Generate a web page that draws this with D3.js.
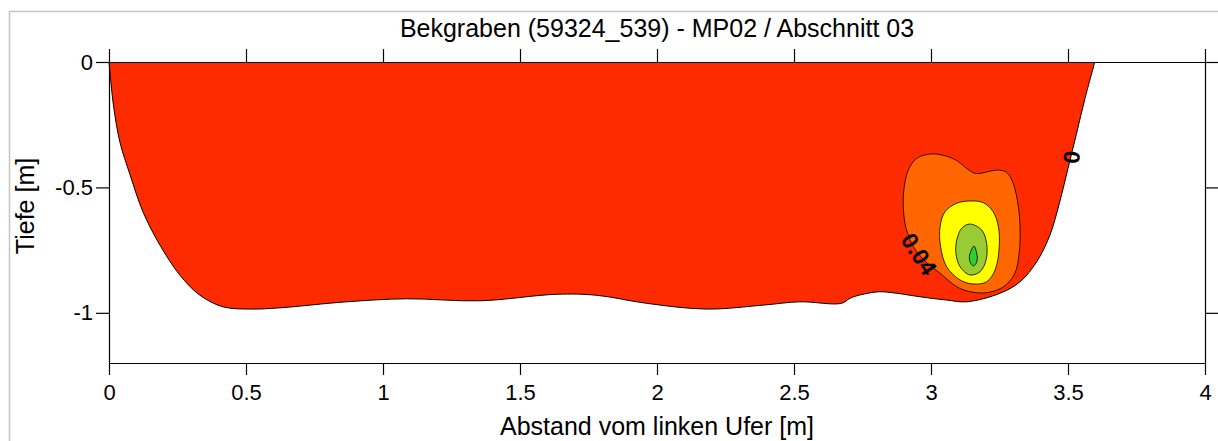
<!DOCTYPE html>
<html>
<head>
<meta charset="utf-8">
<script src="https://cdn.jsdelivr.net/npm/d3@7"></script>
<style>
  html, body { margin: 0; padding: 0; background: #fff; }
  svg { display: block; font-family: "Liberation Sans", Arial, sans-serif; }
</style>
</head>
<body>
<svg id="chart" width="1218" height="441"></svg>
<script>
// Channel cross-section: bed profile (distance from left bank [m], depth [m])
const bedProfile = [
  [0, 0], [0.016, -0.17], [0.04, -0.32], [0.077, -0.45], [0.125, -0.60],
  [0.186, -0.73], [0.259, -0.85], [0.332, -0.93], [0.416, -0.976],
  [0.515, -0.985], [0.624, -0.98], [0.867, -0.956], [1.086, -0.944],
  [1.354, -0.952], [1.634, -0.926], [1.78, -0.93], [1.962, -0.962],
  [2.18, -0.985], [2.39, -0.969], [2.52, -0.956], [2.674, -0.962],
  [2.704, -0.942], [2.74, -0.929], [2.81, -0.916], [2.875, -0.922],
  [2.96, -0.936], [3.057, -0.949], [3.13, -0.956], [3.252, -0.922],
  [3.325, -0.876], [3.386, -0.796], [3.434, -0.69], [3.47, -0.557],
  [3.50, -0.424], [3.53, -0.29], [3.562, -0.145], [3.598, 0]
];

// Velocity isoline bands (closed outlines, same units)
const band004 = [
  [2.996, -0.367], [3.045, -0.372], [3.094, -0.393], [3.142, -0.434],
  [3.167, -0.445], [3.240, -0.431], [3.276, -0.440], [3.300, -0.484],
  [3.319, -0.577], [3.325, -0.657], [3.322, -0.760], [3.305, -0.845],
  [3.262, -0.898], [3.200, -0.920], [3.140, -0.915], [3.094, -0.896],
  [3.033, -0.842], [2.975, -0.790], [2.935, -0.735], [2.915, -0.683],
  [2.905, -0.643], [2.899, -0.577], [2.901, -0.510], [2.917, -0.431],
  [2.948, -0.384]
];
const band008 = [
  [3.142, -0.554], [3.094, -0.563], [3.051, -0.597], [3.033, -0.657],
  [3.035, -0.736], [3.057, -0.816], [3.106, -0.869], [3.154, -0.885],
  [3.203, -0.876], [3.234, -0.829], [3.249, -0.736], [3.246, -0.657],
  [3.227, -0.597], [3.191, -0.561]
];
const band012 = [
  [3.142, -0.646], [3.112, -0.663], [3.094, -0.710], [3.091, -0.763],
  [3.106, -0.816], [3.142, -0.849], [3.179, -0.836], [3.201, -0.789],
  [3.203, -0.723], [3.185, -0.670]
];
const band016 = [
  [3.157, -0.734], [3.140, -0.775], [3.146, -0.805], [3.155, -0.813],
  [3.166, -0.800], [3.169, -0.778]
];

const bands = [
  { name: "0.04", outline: band004, color: "#ff6600" },
  { name: "0.08", outline: band008, color: "#ffff00" },
  { name: "0.12", outline: band012, color: "#99cc33" },
  { name: "0.16", outline: band016, color: "#33cc33" }
];

const xTicks = [0, 0.5, 1, 1.5, 2, 2.5, 3, 3.5, 4];
const yTicks = [0, -0.5, -1];

// Isoline labels: [distance, depth, text, rotation in degrees]
const isoLabels = [
  [3.513, -0.379, "0", -85],
  [2.956, -0.766, "0.04", 57]
];

const titleText = "Bekgraben (59324_539) - MP02 / Abschnitt 03";
const xLabel = "Abstand vom linken Ufer [m]";
const yLabel = "Tiefe [m]";

const svg = d3.select("#chart");
const plotLeft = 109, plotRight = 1205, plotTop = 62, plotBottom = 363;

const x = d3.scaleLinear().domain([0, 4]).range([plotLeft, plotRight]);
const y = d3.scaleLinear().domain([0, -1.2]).range([plotTop, plotBottom]);

// outer frame
svg.append("rect")
  .attr("x", 9.5).attr("y", 11.5)
  .attr("width", 1240).attr("height", 460)
  .attr("fill", "none").attr("stroke", "#c4c4c4").attr("stroke-width", 1.5);

// water-filled cross-section (base band)
const line = d3.line().x(d => x(d[0])).y(d => y(d[1])).curve(d3.curveCatmullRom.alpha(0.5));
svg.append("path")
  .attr("d", line(bedProfile) + "Z")
  .attr("fill", "#ff2b00");

const closed = d3.line().x(d => x(d[0])).y(d => y(d[1])).curve(d3.curveCatmullRomClosed.alpha(0.5));
svg.append("g").selectAll("path")
  .data(bands)
  .join("path")
  .attr("d", d => closed(d.outline))
  .attr("fill", d => d.color)
  .attr("stroke", "#000")
  .attr("stroke-width", 0.8);

// bed line
svg.append("path")
  .attr("d", line(bedProfile))
  .attr("fill", "none")
  .attr("stroke", "#000")
  .attr("stroke-width", 1);

// axes
const fmt = d => String(d);
svg.append("g").attr("transform", `translate(0,${plotBottom})`)
  .call(d3.axisBottom(x).tickValues(xTicks).tickFormat(fmt).tickSize(12).tickSizeOuter(0).tickPadding(9));
svg.append("g").attr("transform", `translate(0,${plotTop})`)
  .call(d3.axisTop(x).tickValues(xTicks).tickFormat("").tickSize(13).tickSizeOuter(0));
svg.append("g").attr("transform", `translate(${plotLeft},0)`)
  .call(d3.axisLeft(y).tickValues(yTicks).tickFormat(fmt).tickSize(13).tickSizeOuter(0).tickPadding(3));
svg.append("g").attr("transform", `translate(${plotRight},0)`)
  .call(d3.axisRight(y).tickValues(yTicks).tickFormat("").tickSize(13).tickSizeOuter(0));

svg.selectAll(".domain, .tick line").attr("stroke", "#000").attr("stroke-width", 1.2);
svg.selectAll(".tick text").attr("font-size", 22).attr("fill", "#000")
  .attr("font-family", "'Liberation Sans', Arial, sans-serif");

// isoline labels
svg.append("g").selectAll("text")
  .data(isoLabels)
  .join("text")
  .attr("transform", d => `translate(${x(d[0])},${y(d[1])}) rotate(${d[3]})`)
  .attr("text-anchor", "middle")
  .attr("dy", "0.35em")
  .attr("font-size", 23)
  .attr("font-weight", "bold")
  .text(d => d[2]);

// titles
svg.append("text")
  .attr("x", (plotLeft + plotRight) / 2).attr("y", 37)
  .attr("text-anchor", "middle").attr("font-size", 25)
  .text(titleText);
svg.append("text")
  .attr("x", (plotLeft + plotRight) / 2).attr("y", 435)
  .attr("text-anchor", "middle").attr("font-size", 25)
  .text(xLabel);
svg.append("text")
  .attr("transform", `translate(34,206) rotate(-90)`)
  .attr("text-anchor", "middle").attr("font-size", 25)
  .text(yLabel);
</script>
</body>
</html>
